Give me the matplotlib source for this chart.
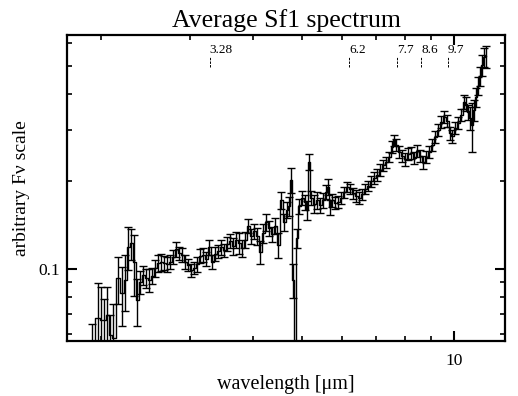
import matplotlib
matplotlib.use('Agg')
import matplotlib.pyplot as plt
import matplotlib.ticker as ticker
import matplotlib.transforms as transforms

plt.rcParams['font.family'] = ['Liberation Serif', 'DejaVu Serif']

# wavelength grid [micron]
wavelength = [1.920, 1.972, 2.000, 2.027, 2.055, 2.084, 2.113, 2.161, 2.201, 2.231,
              2.262, 2.293, 2.325, 2.357, 2.389, 2.422, 2.455, 2.489, 2.523, 2.558,
              2.593, 2.629, 2.665, 2.702, 2.739, 2.777, 2.815, 2.854, 2.893, 2.933,
              2.973, 3.014, 3.056, 3.098, 3.141, 3.184, 3.228, 3.272, 3.317, 3.363,
              3.409, 3.456, 3.504, 3.552, 3.601, 3.651, 3.701, 3.752, 3.804, 3.856,
              3.909, 3.963, 4.018, 4.073, 4.129, 4.186, 4.243, 4.302, 4.361, 4.421,
              4.482, 4.544, 4.607, 4.670, 4.713, 4.756, 4.799, 4.843, 4.887, 4.932,
              5.000, 5.069, 5.115, 5.162, 5.209, 5.282, 5.354, 5.429, 5.503, 5.579,
              5.630, 5.682, 5.734, 5.813, 5.893, 5.973, 6.056, 6.139, 6.224, 6.310,
              6.396, 6.485, 6.574, 6.665, 6.756, 6.849, 6.944, 7.039, 7.136, 7.235,
              7.334, 7.436, 7.538, 7.607, 7.677, 7.783, 7.890, 7.998, 8.109, 8.221,
              8.334, 8.449, 8.565, 8.683, 8.802, 8.923, 9.046, 9.171, 9.297, 9.425,
              9.554, 9.685, 9.819, 9.909, 10.046, 10.184, 10.325, 10.467, 10.563, 10.659,
              10.757, 10.855, 10.955, 11.055, 11.156, 11.258, 11.362, 11.466, 11.571]

flux = [0.0487, 0.0679, 0.0668, 0.0668, 0.0695, 0.0593, 0.058, 0.0931, 0.0827, 0.0917,
        0.119, 0.1228, 0.1057, 0.0782, 0.0902, 0.0954, 0.0931, 0.0917, 0.0946, 0.1008,
        0.1049, 0.1057, 0.1049, 0.104, 0.1057, 0.1099, 0.1171, 0.1135, 0.1117, 0.1057,
        0.1032, 0.0992, 0.1008, 0.104, 0.1108, 0.1117, 0.1082, 0.119, 0.1057, 0.1126,
        0.1153, 0.119, 0.1162, 0.1219, 0.1248, 0.12, 0.1258, 0.1228, 0.1181, 0.1258,
        0.1405, 0.1298, 0.1351, 0.1298, 0.1144, 0.1329, 0.145, 0.1383, 0.1319, 0.1405,
        0.1209, 0.1726, 0.145, 0.1595, 0.1646, 0.2022, 0.0917, 0.035, 0.1278, 0.1646,
        0.1754, 0.1699, 0.1595, 0.2332, 0.1754, 0.1673, 0.1726, 0.166, 0.1726, 0.1839,
        0.1913, 0.1633, 0.1726, 0.1686, 0.1699, 0.1754, 0.1839, 0.1913, 0.1884, 0.1825,
        0.1782, 0.1754, 0.181, 0.1884, 0.1928, 0.2006, 0.2054, 0.2104, 0.2189, 0.2277,
        0.2332, 0.2426, 0.2626, 0.2776, 0.2668, 0.2523, 0.2445, 0.2388, 0.2484, 0.2503,
        0.2407, 0.2544, 0.2445, 0.2332, 0.2426, 0.2523, 0.2668, 0.2842, 0.3004, 0.32,
        0.3329, 0.3226, 0.2934, 0.2864, 0.3051, 0.3174, 0.3382, 0.3749, 0.369, 0.3463,
        0.3303, 0.3126, 0.3519, 0.39, 0.4255, 0.4605, 0.5023, 0.5352, 0.5375]

flux_err = [0.016, 0.022, 0.02, 0.012, 0.017, 0.01, 0.018, 0.017, 0.019, 0.02,
            0.02, 0.015, 0.025, 0.0145, 0.008, 0.007, 0.007, 0.008, 0.006, 0.007,
            0.007, 0.007, 0.006, 0.006, 0.006, 0.006, 0.007, 0.006, 0.006, 0.006,
            0.005, 0.005, 0.005, 0.006, 0.006, 0.006, 0.006, 0.007, 0.006, 0.006,
            0.006, 0.007, 0.006, 0.007, 0.007, 0.008, 0.008, 0.01, 0.008, 0.008,
            0.008, 0.008, 0.008, 0.009, 0.01, 0.01, 0.01, 0.008, 0.008, 0.009,
            0.012, 0.012, 0.01, 0.01, 0.012, 0.02, 0.012, 0.01, 0.01, 0.01,
            0.01, 0.01, 0.012, 0.015, 0.01, 0.012, 0.012, 0.01, 0.01, 0.01,
            0.012, 0.01, 0.009, 0.008, 0.008, 0.008, 0.008, 0.008, 0.008, 0.008,
            0.008, 0.008, 0.008, 0.008, 0.008, 0.009, 0.01, 0.01, 0.01, 0.01,
            0.01, 0.01, 0.012, 0.012, 0.012, 0.012, 0.012, 0.012, 0.012, 0.012,
            0.012, 0.012, 0.012, 0.012, 0.012, 0.012, 0.012, 0.014, 0.014, 0.015,
            0.015, 0.015, 0.015, 0.015, 0.015, 0.015, 0.016, 0.02, 0.02, 0.02,
            0.03, 0.06, 0.03, 0.03, 0.03, 0.035, 0.04, 0.04, 0.045]

# PAH feature positions marked at the top
features = [3.28, 6.2, 7.7, 8.6, 9.7]
feature_labels = ['3.28', '6.2', '7.7', '8.6', '9.7']

fig = plt.figure(figsize=(5.18, 3.96), dpi=100)
ax = fig.add_axes([0.1293, 0.1389, 0.8456, 0.7727])

ax.plot(wavelength, flux, drawstyle='steps-mid', color='black', lw=1.0)
ax.errorbar(wavelength, flux, yerr=flux_err, fmt='none', ecolor='black',
            elinewidth=1.0, capsize=2.8, capthick=1.0)

ax.set_xscale('log')
ax.set_yscale('log')
ax.set_xlim(1.71, 12.6)
ax.set_ylim(0.0566, 0.637)

trans = transforms.blended_transform_factory(ax.transData, ax.transAxes)
for wl, lab in zip(features, feature_labels):
    ax.plot([wl, wl], [0.895, 0.928], transform=trans, color='black',
            lw=0.7, linestyle=(0, (2.5, 1.2)))
    ax.text(wl, 0.94, lab, transform=trans, ha='left', va='baseline', fontsize=9.5)

ax.set_xticks([10])
ax.set_xticklabels(['10'])
ax.xaxis.set_minor_locator(ticker.LogLocator(base=10, subs=range(2, 10)))
ax.xaxis.set_minor_formatter(ticker.NullFormatter())
ax.set_yticks([0.1])
ax.set_yticklabels(['0.1'])
ax.yaxis.set_minor_locator(ticker.LogLocator(base=10, subs=range(2, 10)))
ax.yaxis.set_minor_formatter(ticker.NullFormatter())

ax.tick_params(which='both', direction='in', top=True, right=True, labelsize=12.5)
ax.tick_params(which='major', length=7, width=1.5)
ax.tick_params(which='minor', length=3.5, width=1.2)
ax.tick_params(axis='x', which='major', pad=9)
ax.tick_params(axis='y', which='major', pad=5)
for sp in ax.spines.values():
    sp.set_linewidth(1.6)

ax.set_title('Average Sf1 spectrum', fontsize=18.5, pad=6)
ax.set_xlabel('wavelength [μm]', fontsize=14.5, labelpad=4)
ax.set_ylabel('arbitrary Fν scale', fontsize=14, labelpad=6)

fig.savefig('out.png', dpi=100)
